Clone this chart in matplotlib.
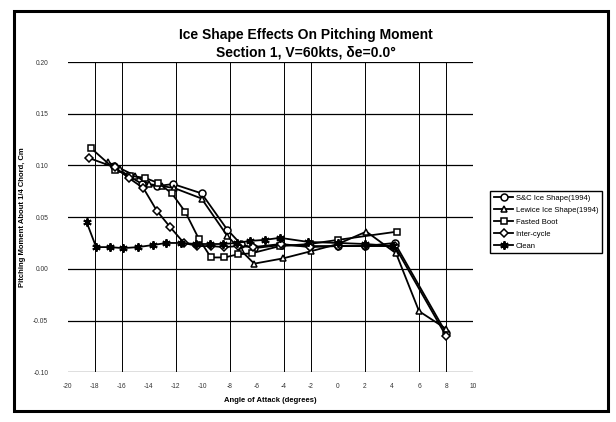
"""Ice shape effects on pitching moment, section 1."""

import matplotlib
matplotlib.use("Agg")
import matplotlib.pyplot as plt
from matplotlib.patches import Rectangle

plt.rcParams["font.family"] = ["Liberation Sans", "DejaVu Sans"]

# angle of attack (deg) / Cm readings, one pair per series
sc_alpha = [-16.6, -15.5, -14.5, -13.4, -12.2, -10.1, -8.2, -7.2, -6.2, -4.2, -2.1, 0.0, 2.0, 4.2, 8.0]
sc_cm = [0.099, 0.090, 0.082, 0.080, 0.082, 0.073, 0.038, 0.024, 0.020, 0.023, 0.022, 0.022, 0.022, 0.025, -0.062]

lewice_alpha = [-17.0, -16.1, -15.0, -14.0, -13.0, -12.1, -10.1, -8.2, -7.2, -6.2, -4.1, -2.0, 0.0, 2.1, 4.3, 6.0, 8.0]
lewice_cm = [0.103, 0.097, 0.090, 0.082, 0.080, 0.078, 0.068, 0.032, 0.018, 0.005, 0.010, 0.017, 0.024, 0.036, 0.015, -0.041, -0.058]

boot_alpha = [-18.3, -16.5, -15.4, -14.3, -13.3, -12.3, -11.3, -10.3, -9.4, -8.4, -7.4, -6.4, -4.3, -2.1, 0.0, 4.4]
boot_cm = [0.117, 0.096, 0.090, 0.088, 0.083, 0.073, 0.055, 0.029, 0.011, 0.011, 0.014, 0.015, 0.022, 0.024, 0.028, 0.036]

inter_alpha = [-18.4, -16.5, -15.5, -14.4, -13.4, -12.4, -11.4, -10.4, -9.4, -8.4, -7.4, -6.3, -4.2, -2.1, 0.0, 2.0, 4.2, 8.0]
inter_cm = [0.107, 0.098, 0.088, 0.078, 0.056, 0.040, 0.025, 0.022, 0.022, 0.021, 0.022, 0.021, 0.024, 0.021, 0.022, 0.022, 0.022, -0.065]

clean_alpha = [-18.6, -17.9, -16.9, -15.9, -14.8, -13.7, -12.7, -11.6, -10.5, -9.5, -8.5, -7.5, -6.5, -5.4, -4.3, -2.2, 0.0, 2.0, 4.1]
clean_cm = [0.045, 0.021, 0.021, 0.020, 0.021, 0.023, 0.025, 0.025, 0.024, 0.024, 0.024, 0.025, 0.027, 0.028, 0.030, 0.026, 0.025, 0.024, 0.022]

x_ticks = list(range(-20, 11, 2))
y_ticks = [-0.10, -0.05, 0.00, 0.05, 0.10, 0.15, 0.20]
x_grid = [-18, -16, -12, -8, -4, -2, 2, 6, 8]  # vertical lines that survive in the scan

fig = plt.figure(figsize=(6.16, 4.22), dpi=100)
ax = fig.add_axes([0.110, 0.118, 0.658, 0.735])

# frame round the whole sheet
fig.patches.append(Rectangle((0.022, 0.025), 0.965, 0.95, transform=fig.transFigure,
                             fill=False, ec="black", lw=2.2))

for yv in y_ticks:
    ax.axhline(yv, color="black", lw=0.9, zorder=1)
for xv in x_grid:
    ax.axvline(xv, color="black", lw=0.7, zorder=1)

mk = dict(color="black", lw=1.3, markersize=5, markerfacecolor="white",
          markeredgecolor="black", markeredgewidth=1.1, zorder=3)
ax.plot(sc_alpha, sc_cm, marker="o", label="S&C Ice Shape(1994)", **mk)
ax.plot(lewice_alpha, lewice_cm, marker="^", label="Lewice Ice Shape(1994)", **mk)
ax.plot(boot_alpha, boot_cm, marker="s", label="Fasted Boot", **mk)
ax.plot(inter_alpha, inter_cm, marker="D", label="Inter-cycle",
        **{**mk, "markersize": 4})
ax.plot(clean_alpha, clean_cm, marker=(6, 2, 0), label="Clean",
        **{**mk, "markersize": 6, "markeredgewidth": 1.4})

ax.set_xlim(-20, 10)
ax.set_ylim(-0.10, 0.20)
ax.set_xticks(x_ticks)
ax.set_xticklabels([str(v) for v in x_ticks])
ax.set_yticks(y_ticks)
ax.set_yticklabels([f"{v:.2f}" for v in y_ticks])
ax.tick_params(axis="x", length=0, labelsize=4.8, colors="#333333", pad=8)
ax.tick_params(axis="y", length=0, labelsize=4.8, colors="#333333", pad=14)
for s in ax.spines.values():
    s.set_visible(False)

ax.set_xlabel("Angle of Attack (degrees)", fontsize=5.5, fontweight="bold", labelpad=5)
ax.set_ylabel("Pitching Moment About 1/4 Chord, Cm", fontsize=5.5, fontweight="bold", labelpad=5)

fig.text(0.497, 0.918, "Ice Shape Effects On Pitching Moment", ha="center", va="center",
         fontsize=10, fontweight="bold")
fig.text(0.497, 0.876, "Section 1, V=60kts, δe=0.0°", ha="center", va="center",
         fontsize=10, fontweight="bold")

ax.legend(loc="upper left", bbox_to_anchor=(0.79, 0.557), bbox_transform=fig.transFigure,
          fontsize=5.5, frameon=True, fancybox=False, edgecolor="black", framealpha=1,
          handlelength=2.5, borderpad=0.5, labelspacing=0.6, handletextpad=0.3)

fig.savefig("out.png", dpi=100)
